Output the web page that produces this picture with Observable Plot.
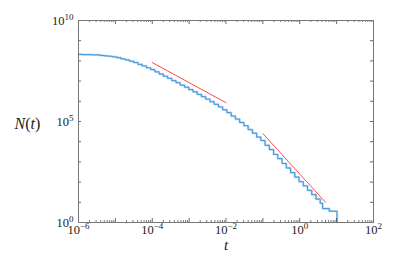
<!DOCTYPE html>
<html><head><meta charset="utf-8">
<script src="https://cdn.jsdelivr.net/npm/d3@7"></script>
<script src="https://cdn.jsdelivr.net/npm/@observablehq/plot@0.6"></script>
<style>
body{margin:0;background:#fff}
#chart{width:412px;height:264px}
</style>
</head><body><div id="chart"></div>
<script>
// Staircase N(t): step edges (log10 t) and values (log10 N)
const stepLogT = [-6.00,-5.885,-5.77,-5.655,-5.54,-5.425,-5.31,-5.195,-5.08,-4.965,-4.85,-4.735,-4.62,-4.505,-4.39,-4.275,-4.16,-4.045,-3.93,-3.815,-3.70,-3.585,-3.47,-3.355,-3.24,-3.125,-3.01,-2.895,-2.78,-2.665,-2.55,-2.435,-2.32,-2.205,-2.09,-1.975,-1.86,-1.745,-1.63,-1.515,-1.40,-1.285,-1.17,-1.055,-0.94,-0.825,-0.71,-0.595,-0.48,-0.365,-0.25,-0.135,-0.02,0.095,0.21,0.325,0.44,0.555,0.62,0.80,1.01];
const stepLogN = [8.32,8.31,8.31,8.30,8.30,8.27,8.25,8.23,8.20,8.16,8.10,8.05,7.99,7.92,7.83,7.75,7.66,7.57,7.46,7.35,7.24,7.14,7.02,6.92,6.80,6.70,6.58,6.47,6.34,6.23,6.11,5.98,5.85,5.72,5.58,5.44,5.27,5.12,4.95,4.79,4.60,4.42,4.23,4.06,3.82,3.61,3.37,3.16,2.92,2.70,2.47,2.25,2.02,1.81,1.59,1.38,1.16,0.95,0.69,0.56,0];
// Power-law guide lines (t, N)
const guideA_T = [1e-4, 1e-2];
const guideA_N = [8.3e7, 8.5e5];
const guideB_T = [0.1, 5];
const guideB_N = [2.5e4, 10];
// Axis ticks (exponents)
const xTickExp = [-6,-5,-4,-3,-2,-1,0,1,2];
const xLabelExp = [-6,-4,-2,0,2];
const yTickExp = [0,1,2,3,4,5,6,7,8,9,10];
const yLabelExp = [0,5,10];

const steps = stepLogT.map((u,i)=>({t:10**u, n:10**stepLogN[i]}));
const gA = guideA_T.map((t,i)=>({t, n:guideA_N[i]}));
const gB = guideB_T.map((t,i)=>({t, n:guideB_N[i]}));
const xMajor = xTickExp.map(e=>10**e);
const xMinor = [];
for (let e=-6;e<2;e++) for (let m=2;m<=9;m++) xMinor.push(m*10**e);
const yMajor = yTickExp.map(e=>10**e);

const W=412,H=264,mL=78,mR=39,mT=20,mB=42;
const fw=W-mL-mR, fh=H-mT-mB;
const fmt = e => "10^" + (e<0 ? "\u2212"+(-e) : String(e));
const tickC = "#444";
const FF = "Liberation Serif";

const svg = Plot.plot({
  width:W, height:H,
  marginLeft:mL, marginRight:mR, marginTop:mT, marginBottom:mB,
  style:{fontFamily:FF, background:"#fff", color:"#222"},
  x:{type:"log", domain:[1e-6,1e2], axis:null},
  y:{type:"log", domain:[1,1e10], axis:null},
  marks:[
    Plot.line(steps,{x:"t",y:"n",curve:"step-after",stroke:"#b5d9f5",strokeWidth:2.2}),
    Plot.line(steps,{x:"t",y:"n",curve:"step-after",stroke:"#3a8dd4",strokeWidth:0.9}),
    Plot.line(gA,{x:"t",y:"n",stroke:"#ff4a4a",strokeWidth:1}),
    Plot.line(gB,{x:"t",y:"n",stroke:"#ff4a4a",strokeWidth:1}),
    Plot.ruleX(xMajor,{x:d=>d,insetTop:fh-4,stroke:tickC,strokeWidth:0.8}),
    Plot.ruleX(xMinor,{x:d=>d,insetTop:fh-2,stroke:tickC,strokeWidth:0.7}),
    Plot.ruleX(xMajor,{x:d=>d,insetBottom:fh-4,stroke:tickC,strokeWidth:0.8}),
    Plot.ruleX(xMinor,{x:d=>d,insetBottom:fh-2,stroke:tickC,strokeWidth:0.7}),
    Plot.ruleY(yMajor,{y:d=>d,insetRight:fw-3,stroke:tickC,strokeWidth:0.8}),
    Plot.ruleY(yMajor,{y:d=>d,insetLeft:fw-3,stroke:tickC,strokeWidth:0.8}),
    Plot.frame({stroke:"#777",strokeWidth:1}),
    Plot.text(xLabelExp,{x:e=>10**e,frameAnchor:"bottom",dy:11,text:fmt,fontSize:12.5,fontFamily:FF,textAnchor:"middle",fill:"#222"}),
    Plot.text(yLabelExp,{y:e=>10**e,frameAnchor:"left",dx:-5,text:fmt,fontSize:12.5,fontFamily:FF,textAnchor:"end",fill:"#222"}),
    Plot.text(["N(t)"],{frameAnchor:"left",dx:-51,dy:2,text:d=>d,fontSize:16,fontFamily:FF,textAnchor:"middle",fill:"#222"}),
    Plot.text(["t"],{frameAnchor:"bottom",dy:27,text:d=>d,fontSize:15,fontFamily:FF,fontStyle:"italic",textAnchor:"middle",fill:"#222"})
  ]
});

const NS="http://www.w3.org/2000/svg";
svg.querySelectorAll("text").forEach(t=>{
  const s=t.textContent;
  const i=s.indexOf("^");
  if(i>=0){
    t.textContent="";
    t.appendChild(document.createTextNode(s.slice(0,i)));
    const sp=document.createElementNS(NS,"tspan");
    sp.setAttribute("font-size","9");
    sp.setAttribute("dy","-5");
    sp.textContent=s.slice(i+1);
    t.appendChild(sp);
  } else if(s==="N(t)"){
    t.textContent="";
    const parts=[["N",true],["(",false],["t",true],[")",false]];
    for(const [str,it] of parts){
      const sp=document.createElementNS(NS,"tspan");
      if(it) sp.setAttribute("font-style","italic");
      sp.textContent=str;
      t.appendChild(sp);
    }
  }
});
document.getElementById("chart").appendChild(svg);
</script></body></html>
